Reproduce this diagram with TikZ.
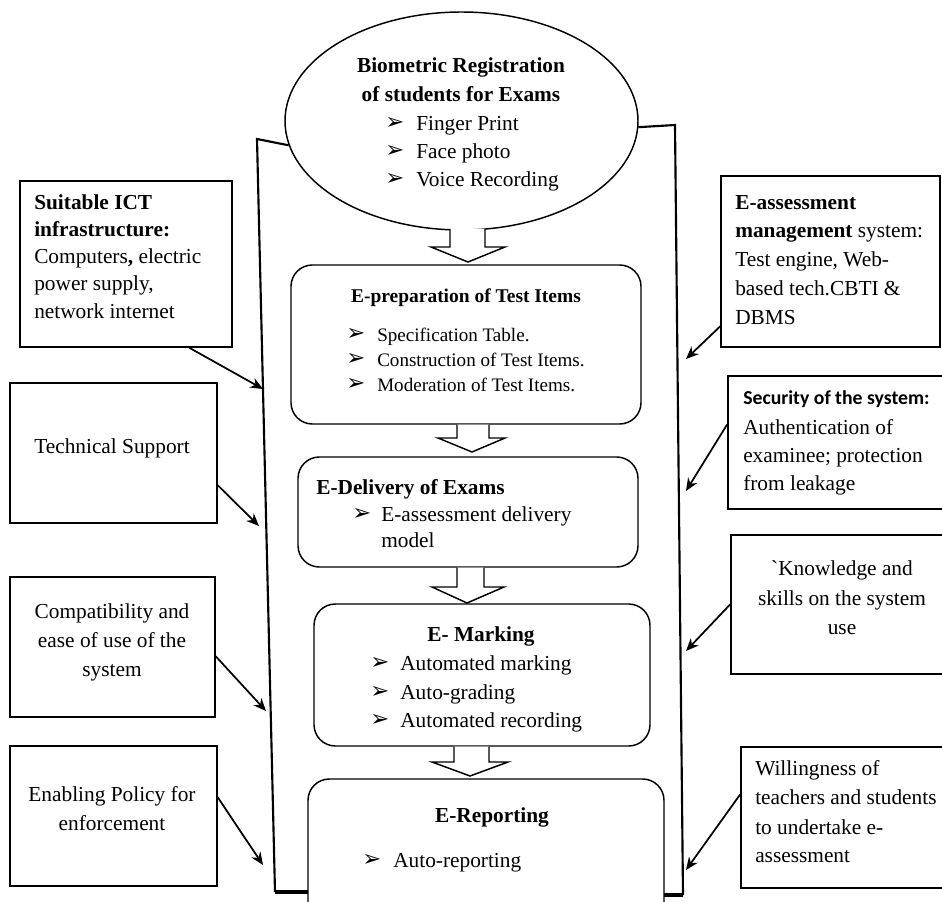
\documentclass[tikz,border=0pt]{standalone}
\usepackage{fontspec}
\setmainfont{Liberation Serif}
\newfontfamily\symfont{DejaVu Sans}
\newfontfamily\calfont{Carlito}
\usetikzlibrary{shapes.geometric,fit,calc,arrows.meta}
\newcommand{\bul}{{\symfont\fontsize{17}{17}\selectfont ➢}}
\begin{document}
\begin{tikzpicture}[x=0.75pt,y=-0.75pt,
  box/.style={draw,line width=1.1pt,inner sep=0pt},
  rbox/.style={draw,line width=1.1pt,inner sep=0pt,rounded corners=16pt,fill=white},
  conn/.style={line width=1.3pt,-{Stealth[length=9.5pt,width=8pt]}},
  brk/.style={line width=1.6pt},
  brkb/.style={line width=3pt},
  blk/.style={line width=1.1pt,fill=white},
  t/.style={inner sep=0pt,anchor=base west,font=\fontsize{16}{19}\selectfont},
  tc/.style={inner sep=0pt,anchor=base,font=\fontsize{16}{19}\selectfont},
  ts/.style={inner sep=0pt,anchor=base west,font=\fontsize{14.3}{17}\selectfont},
  bl/.style={inner sep=0pt,anchor=base west}]
\useasboundingbox (0,0) rectangle (942,902);
\clip (0,0) rectangle (942,902);

% ellipse
\node[draw,line width=1.1pt,ellipse,minimum width=264.75pt,minimum height=163.5pt,inner sep=0pt,fill=white] (E) at (461.5,121) {};

% bracket lines
\coordinate (lt) at (257,139);
\coordinate (lb) at (275,892);
\coordinate (rt) at (675,125);
\coordinate (rb) at (683,895);
\coordinate (lbe) at (309,892);
\coordinate (rbe) at (664,895);
\draw[brk] (E.188) -- (lt) -- (lb);
\draw[brk] (E.358) -- (rt) -- (rb);
\draw[brkb] (lb) -- (lbe);
\draw[brkb] (rb) -- (rbe);

% flow boxes
\node[rbox,fit={(291,265)(641,424)}] (Prep) {};
\node[rbox,fit={(298,457)(638,567)}] (Del) {};
\node[rbox,fit={(314,604)(650,746)}] (Mark) {};
\node[rbox,fit={(308,779)(664,935)}] (Rep) {};

% block arrows
\draw[blk] (450,229) -- (450,247) -- (431,247) -- (468,262) -- (505,247) -- (485,247) -- (485,229);
\draw[blk] (457,424.5) -- (457,438) -- (438,438) -- (472,452) -- (505,438) -- (489,438) -- (489,424.5);
\draw[blk] (457,567.5) -- (457,587) -- (432,587) -- (467,603) -- (504,587) -- (484,587) -- (484,567.5);
\draw[blk] (454,746.5) -- (454,762) -- (432,762) -- (470,776) -- (508,762) -- (489,762) -- (489,746.5);

% ellipse text
\node[tc,font=\fontsize{16}{19}\selectfont\bfseries] (e1) at (461,73) {Biometric Registration};
\node[tc,font=\fontsize{16}{19}\selectfont\bfseries] (e2) at (461,102) {of students for Exams};
\node[bl] (eb1) at (385,130) {\bul};
\node[bl] (eb2) at (385,158) {\bul};
\node[bl] (eb3) at (385,186) {\bul};
\node[t] (e3) at (416,131) {Finger Print};
\node[t] (e4) at (416,159) {Face photo};
\node[t] (e5) at (416,187) {Voice Recording};

% E-preparation
\node[inner sep=0pt,anchor=base,font=\fontsize{14.6}{17}\selectfont\bfseries] (p0) at (466,302) {E-preparation of Test Items};
\node[bl] (pb1) at (346,340) {\bul};
\node[bl] (pb2) at (346,365) {\bul};
\node[bl] (pb3) at (346,390) {\bul};
\node[ts] (p1) at (377,341) {Specification Table.};
\node[ts] (p2) at (377,366) {Construction of Test Items.};
\node[ts] (p3) at (377,391) {Moderation of Test Items.};

% E-Delivery
\node[t,font=\fontsize{16}{19}\selectfont\bfseries] (d0) at (316,494) {E-Delivery of Exams};
\node[bl] (db1) at (352,520) {\bul};
\node[t] (d1) at (381,521) {E-assessment delivery};
\node[t] (d2) at (381,547) {model};

% E-Marking
\node[tc,font=\fontsize{16}{19}\selectfont\bfseries] (m0) at (481,641) {E- Marking};
\node[bl] (mb1) at (370,669) {\bul};
\node[bl] (mb2) at (370,698) {\bul};
\node[bl] (mb3) at (370,726) {\bul};
\node[t] (m1) at (400,670) {Automated marking};
\node[t] (m2) at (400,699) {Auto-grading};
\node[t] (m3) at (400,727) {Automated recording};

% E-Reporting
\node[tc,font=\fontsize{16}{19}\selectfont\bfseries] (r0) at (492,822) {E-Reporting};
\node[bl] (rb1) at (362,866) {\bul};
\node[t] (r1) at (393,867) {Auto-reporting};

% left boxes
\node[box,fit={(20,181)(232,347)}] (L1) {};
\node[box,fit={(10,383)(217,523)}] (L2) {};
\node[box,fit={(10,577)(215,717)}] (L3) {};
\node[box,fit={(10,746)(217,886)}] (L4) {};

\node[t,font=\fontsize{16}{19}\selectfont\bfseries] (l11) at (34,210) {Suitable ICT};
\node[t,font=\fontsize{16}{19}\selectfont\bfseries] (l12) at (34,237) {infrastructure:};
\node[t] (l13) at (34,264) {Computers\textbf{,} electric};
\node[t] (l14) at (34,291) {power supply,};
\node[t] (l15) at (34,318) {network internet};

\node[tc] (l21) at (112,453) {Technical Support};

\node[tc] (l31) at (112,618) {Compatibility and};
\node[tc] (l32) at (112,647) {ease of use of the};
\node[tc] (l33) at (112,676) {system};

\node[tc] (l41) at (112,801) {Enabling Policy for};
\node[tc] (l42) at (112,830) {enforcement};

% right boxes
\node[box,fit={(721,176)(940,347)}] (R1) {};
\node[box,fit={(728,376)(952,509)}] (R2) {};
\node[box,fit={(731,535)(952,674)}] (R3) {};
\node[box,fit={(741,747)(952,888)}] (R4) {};

\node[t,font=\fontsize{16}{19}\selectfont\bfseries] (r11) at (735,210) {E-assessment};
\node[t] (r12) at (735,238) {\textbf{management} system:};
\node[t] (r13) at (735,267) {Test engine, Web-};
\node[t] (r14) at (735,296) {based tech.CBTI \&};
\node[t] (r15) at (735,325) {DBMS};

\node[inner sep=0pt,anchor=base west,font=\calfont\fontsize{14.8}{17}\selectfont\bfseries] (r21) at (743,404) {Security of the system:};
\node[t] (r22) at (743,434) {Authentication of};
\node[t] (r23) at (743,462) {examinee; protection};
\node[t] (r24) at (743,490) {from leakage};

\node[tc] (r31) at (842,575) {\textasciigrave Knowledge and};
\node[tc] (r32) at (842,605) {skills on the system};
\node[tc] (r33) at (842,634) {use};

\node[t] (r41) at (755,775) {Willingness of};
\node[t] (r42) at (755,804) {teachers and students};
\node[t] (r43) at (755,834) {to undertake e-};
\node[t] (r44) at (755,862) {assessment};

% connector ends
\coordinate (a1) at (263,389);
\coordinate (a2) at (259,526);
\coordinate (a3) at (266,711);
\coordinate (a4) at (263,865);
\coordinate (b1) at (686,359);
\coordinate (b2) at (686,491);
\coordinate (b3) at (686,651);
\coordinate (b4) at (686,870);

\draw[conn] ($(L1.south west)+(170,0)$) -- (a1);
\draw[conn] ($(L2.north east)+(0,103)$) -- (a2);
\draw[conn] ($(L3.north east)+(0,80)$) -- (a3);
\draw[conn] ($(L4.north east)+(0,52)$) -- (a4);
\draw[conn] ($(R1.north west)+(0,151)$) -- (b1);
\draw[conn] ($(R2.north west)+(0,49)$) -- (b2);
\draw[conn] ($(R3.north west)+(0,70)$) -- (b3);
\draw[conn] ($(R4.north west)+(0,48)$) -- (b4);
\end{tikzpicture}
\end{document}
